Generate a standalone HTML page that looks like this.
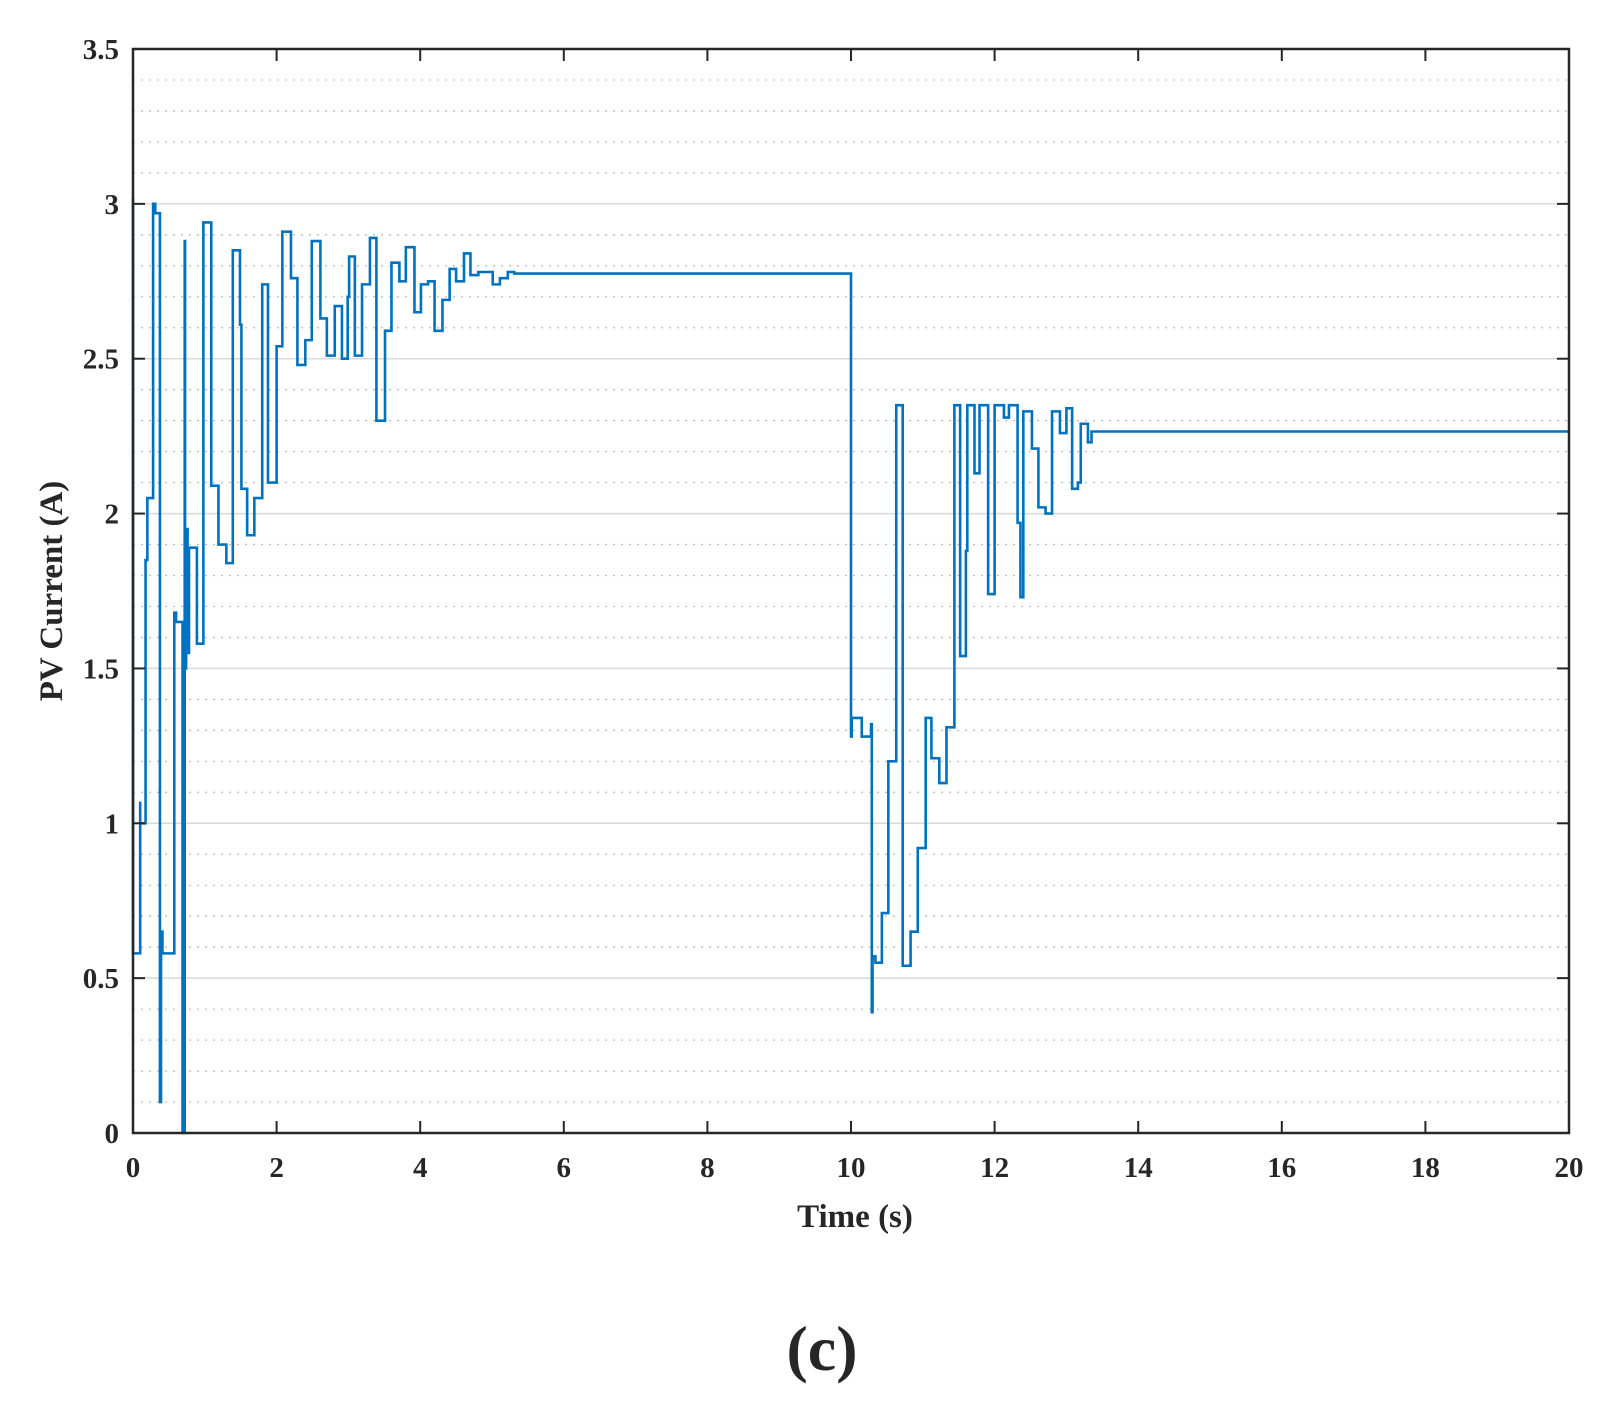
<!DOCTYPE html>
<html><head><meta charset="utf-8"><style>
html,body{margin:0;padding:0;background:#fff;}
svg{display:block;}
text{font-family:"Liberation Serif",serif;font-weight:bold;fill:#262626;}
</style></head><body>
<svg id="chart" width="1609" height="1408" viewBox="0 0 1609 1408" xmlns="http://www.w3.org/2000/svg">
<g id="grid"></g>
<g id="series"></g>
<rect x="133" y="49" width="1436" height="1084" fill="none" stroke="#262626" stroke-width="2.5"/>
<g id="ticks"></g>
<text x="855" y="1227" font-size="33" text-anchor="middle">Time (s)</text>
<text transform="translate(62,591) rotate(-90)" font-size="33" text-anchor="middle">PV Current (A)</text>
<text x="822" y="1370" font-size="64" text-anchor="middle" fill="#000">(c)</text>
</svg>
<script>
const xTicks=[0,2,4,6,8,10,12,14,16,18,20];
const yTicks=[0,0.5,1,1.5,2,2.5,3,3.5];
const yTickLabels=["0","0.5","1","1.5","2","2.5","3","3.5"];
const stepTimes=[0,0,0.1,0.1,0.175,0.2,0.28,0.31,0.375,0.375,0.39,0.41,0.575,0.6,0.69,0.72,0.725,0.74,0.76,0.78,0.8,0.89,0.98,1.09,1.19,1.3,1.39,1.49,1.51,1.59,1.69,1.8,1.88,2.0,2.08,2.2,2.29,2.4,2.49,2.61,2.7,2.81,2.91,2.99,3.01,3.09,3.19,3.3,3.39,3.51,3.6,3.71,3.8,3.92,4.01,4.11,4.2,4.31,4.41,4.5,4.61,4.7,4.81,5.01,5.11,5.22,5.31,
10,10.01,10.15,10.28,10.29,10.3,10.34,10.43,10.52,10.63,10.72,10.83,10.93,11.04,11.12,11.23,11.33,11.44,11.52,11.6,11.62,11.72,11.79,11.91,12.0,12.13,12.2,12.32,12.36,12.4,12.52,12.61,12.71,12.8,12.91,13.0,13.08,13.16,13.2,13.3,13.35];
const stepValues=[3.02,0.58,1.07,1.0,1.85,2.05,3.0,2.97,2.97,0.1,0.65,0.58,1.68,1.65,0.0,2.88,1.5,1.95,1.55,1.89,1.89,1.58,2.94,2.09,1.9,1.84,2.85,2.61,2.08,1.93,2.05,2.74,2.1,2.54,2.91,2.76,2.48,2.56,2.88,2.63,2.51,2.67,2.5,2.7,2.83,2.51,2.74,2.89,2.3,2.59,2.81,2.75,2.86,2.65,2.74,2.75,2.59,2.69,2.79,2.75,2.84,2.77,2.78,2.74,2.76,2.78,2.775,
1.28,1.34,1.28,1.32,0.39,0.57,0.55,0.71,1.2,2.35,0.54,0.65,0.92,1.34,1.21,1.13,1.31,2.35,1.54,1.88,2.35,2.13,2.35,1.74,2.35,2.31,2.35,1.97,1.73,2.33,2.21,2.02,2.0,2.33,2.26,2.34,2.08,2.1,2.29,2.23,2.265];
const X0=133,X1=1569,Y0=1133,Y1=49,TMAX=20,VMAX=3.5;
const xs=t=>X0+(t/TMAX)*(X1-X0);
const ys=v=>Y0-(v/VMAX)*(Y0-Y1);
const NS="http://www.w3.org/2000/svg";
function mk(tag,parent){const e=document.createElementNS(NS,tag);parent.appendChild(e);return e;}
const grid=document.getElementById('grid'),ticks=document.getElementById('ticks'),series=document.getElementById('series');
for(let i=1;i<35;i++){
  const v=i*0.1;const l=mk('line',grid);
  
  
  l.setAttribute('x1',X0);l.setAttribute('x2',X1);l.setAttribute('y1',ys(v));l.setAttribute('y2',ys(v));
  if(i%5===0){l.setAttribute('stroke','#d9d9d9');l.setAttribute('stroke-width','1.5');}
  else{l.setAttribute('stroke','#bdbdbd');l.setAttribute('stroke-width','1.3');l.setAttribute('stroke-dasharray','2 6');}
}
xTicks.forEach(t=>{
  const x=xs(t);
  [[Y0,Y0-12],[Y1,Y1+12]].forEach(p=>{const l=mk('line',ticks);
    
    
    l.setAttribute('x1',x);l.setAttribute('x2',x);l.setAttribute('y1',p[0]);l.setAttribute('y2',p[1]);l.setAttribute('stroke','#262626');l.setAttribute('stroke-width','2');});
  const tx=mk('text',ticks);
  
  
  tx.setAttribute('x',x);tx.setAttribute('y',1177);tx.setAttribute('font-size','29');tx.setAttribute('text-anchor','middle');tx.textContent=t;
});
yTicks.forEach((v,i)=>{
  const y=ys(v);
  [[X0,X0+12],[X1,X1-12]].forEach(p=>{const l=mk('line',ticks);
    
    
    l.setAttribute('x1',p[0]);l.setAttribute('x2',p[1]);l.setAttribute('y1',y);l.setAttribute('y2',y);l.setAttribute('stroke','#262626');l.setAttribute('stroke-width','2');});
  const tx=mk('text',ticks);
  
  
  tx.setAttribute('x',119);tx.setAttribute('y',y+10);tx.setAttribute('font-size','29');tx.setAttribute('text-anchor','end');tx.textContent=yTickLabels[i];
});
let d='M'+xs(stepTimes[0])+' '+ys(stepValues[0]);
for(let i=1;i<stepTimes.length;i++){
  d+=' H'+xs(stepTimes[i]).toFixed(2)+' V'+ys(stepValues[i]).toFixed(2);
}
d+=' H'+xs(TMAX);
const p=mk('path',series);


p.setAttribute('d',d);p.setAttribute('fill','none');p.setAttribute('stroke','#0072BD');p.setAttribute('stroke-width','2.6');
</script>
</body></html>
